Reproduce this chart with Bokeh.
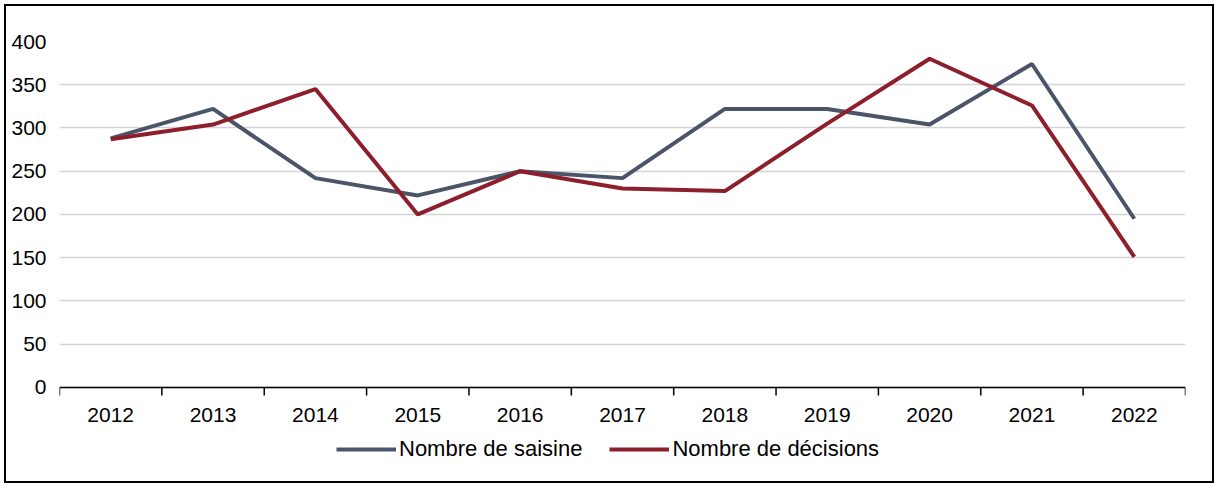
from bokeh.plotting import figure
from bokeh.models import Range1d, FixedTicker, Legend, LegendItem, Span
from bokeh.core.properties import value
from bokeh.embed import file_html
from bokeh.resources import INLINE

years = [2012, 2013, 2014, 2015, 2016, 2017, 2018, 2019, 2020, 2021, 2022]
year_labels = [str(y) for y in years]
saisine = [288, 322, 242, 222, 250, 242, 322, 322, 304, 374, 195]
decisions = [287, 304, 345, 200, 250, 230, 227, 305, 380, 326, 151]
y_ticks = [0, 50, 100, 150, 200, 250, 300, 350, 400]

FONT = "Liberation Sans"
FS = "21px"
C_SAIS = "#4b5469"
C_DEC = "#8d1f2c"
W, H = 1210, 479

# frame spans from the 400 gridline down to the inner edge of the box,
# so that the legend under the axis lies inside the frame
PX_PER_UNIT = 342 / 400
p = figure(width=W, height=H, output_backend="svg", toolbar_location=None,
           x_axis_location=None,
           x_range=Range1d(years[0] - 0.5, years[-1] + 0.5),
           y_range=Range1d(-97 / PX_PER_UNIT, 400),
           min_border_left=53, min_border_right=31, min_border_top=35, min_border_bottom=0)
p.styles = {"transform": "translate(4px, 4px)", "border": "2px solid black"}
p.outline_line_color = None
p.background_fill_color = "white"
p.border_fill_color = "white"

# y axis
p.yaxis.ticker = FixedTicker(ticks=y_ticks)
p.yaxis.axis_line_color = None
p.yaxis.major_tick_line_color = None
p.yaxis.minor_tick_line_color = None
p.yaxis.major_tick_out = 0
p.yaxis.major_tick_in = 0
p.yaxis.major_label_standoff = 13
p.yaxis.major_label_text_font = FONT
p.yaxis.major_label_text_font_size = FS
p.yaxis.major_label_text_color = "black"

p.xgrid.grid_line_color = None
p.ygrid.grid_line_color = "#d4d4d4"
p.ygrid.grid_line_width = 1.5

r1 = p.line(years, saisine, line_color=C_SAIS, line_width=4)
r2 = p.line(years, decisions, line_color=C_DEC, line_width=4)

# category axis at y = 0: line, boundary ticks, centred year labels
p.add_layout(Span(location=0, dimension="width", line_color="black", line_width=1.5))
bounds = [y - 0.5 for y in years] + [years[-1] + 0.5]
tick_len = 8 / PX_PER_UNIT
p.segment(x0=bounds, y0=[0] * len(bounds), x1=bounds, y1=[-tick_len] * len(bounds),
          line_color="black", line_width=1.5)
p.text(x=years, y=[0] * len(years), text=year_labels, text_align="center",
       text_baseline="middle", y_offset=28, text_font=value(FONT),
       text_font_size=FS, text_color="black")

legend = Legend(items=[LegendItem(label="Nombre de saisine", renderers=[r1]),
                       LegendItem(label="Nombre de décisions", renderers=[r2])],
                orientation="horizontal", location=(277, 23),
                glyph_width=60, glyph_height=22, label_standoff=3, spacing=27,
                label_text_font=FONT, label_text_font_size="22px", label_text_color="black",
                border_line_color=None, background_fill_alpha=0,
                padding=0, margin=0)
p.add_layout(legend, "center")

open("out.html", "w").write(file_html(p, INLINE))
